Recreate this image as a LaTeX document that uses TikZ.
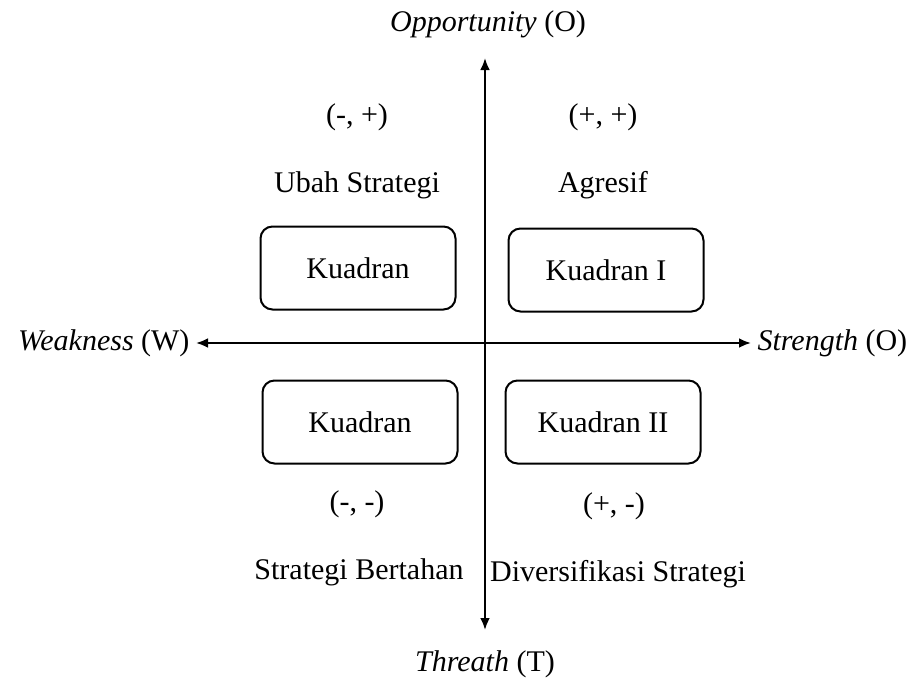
\documentclass[tikz,border=0pt]{standalone}
\usepackage{fontspec}
\setmainfont{Liberation Serif}
\usetikzlibrary{arrows.meta,positioning}

\begin{document}
\begin{tikzpicture}[x=1pt,y=-1pt,font=\fontsize{30}{33}\selectfont]
        \useasboundingbox (0,0) rectangle (919,686);

        % axis ends
        \coordinate (otip) at (485, 58);
        \coordinate (ttip) at (485,630);
        \coordinate (wtip) at (196,343);
        \coordinate (stip) at (751,343);

        \begin{scope}[every node/.append style={font=\fontsize{30}{33}\itshape}]
            \node (opp)  at (488, 24) {Opportunity \normalfont(O)};
            \node (thr)  at (485,664) {Threath \normalfont(T)};
            \node [left=3pt of wtip]  (weak) {Weakness \normalfont(W)};
            \node [right=3pt of stip] (str)  {Strength \normalfont(O)};
        \end{scope}

        \begin{scope}[line width=2.6pt]
            \draw[{Latex[length=12pt,width=10pt]}-{Latex[length=12pt,width=10pt]}] (otip) -- (ttip);
            \draw[{Latex[length=12pt,width=10pt]}-{Latex[length=12pt,width=10pt]}] (wtip) -- (stip);
        \end{scope}

        \begin{scope}[every node/.append style={draw,line width=2pt,rounded corners=12pt,minimum width=195pt,minimum height=83pt}]
            \node (kiv) at (358,268) {Kuadran};
            \node (ki)  at (606,270) {Kuadran I};
            \node (kiii) at (360,422) {Kuadran};
            \node (kii) at (603,422) {Kuadran II};
        \end{scope}

        \node (mp) at (357,117) {(-, +)};
        \node (pp) at (603,117) {(+, +)};
        \node [below=34pt of mp] (ubah) {Ubah Strategi};
        \node [below=34pt of pp] (agr) {Agresif};

        \node (mm) at (357,504) {(-, -)};
        \node (pm) at (614,506) {(+, -)};
        \node (bert) at (359,572) {Strategi Bertahan};
        \node (div)  at (618,574) {Diversifikasi Strategi};
    \end{tikzpicture}
\end{document}
